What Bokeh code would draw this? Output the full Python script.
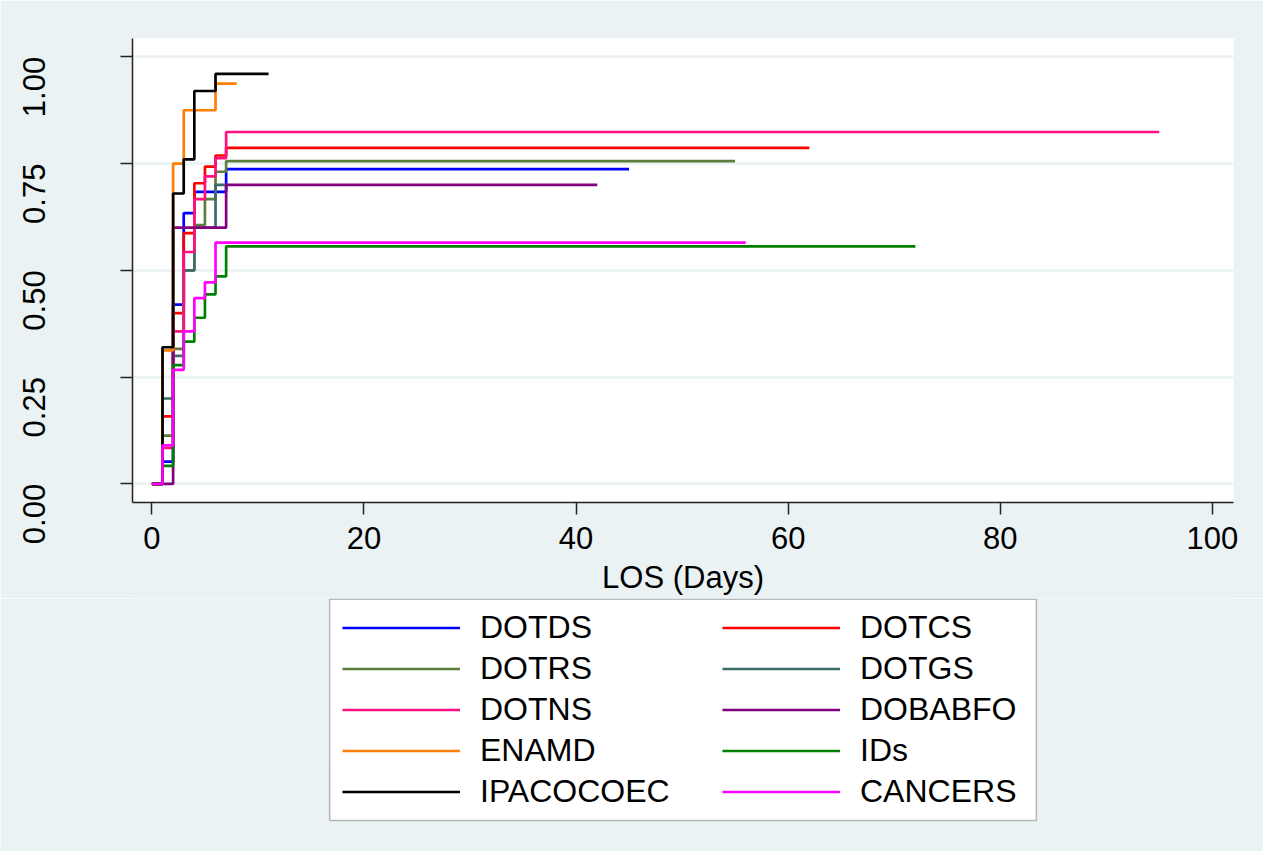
import math
from bokeh.plotting import figure
from bokeh.layouts import column
from bokeh.models import Legend, LegendItem, FixedTicker, PrintfTickFormatter, Range1d, BoxAnnotation
from bokeh.embed import file_html
from bokeh.resources import INLINE

# ---- data ----
names = ["DOTDS", "DOTCS", "DOTRS", "DOTGS", "DOTNS",
         "DOBABFO", "ENAMD", "IDs", "IPACOCOEC", "CANCERS"]

days_7 = [0, 1, 2, 3, 4, 5, 6, 7]
days_6 = [0, 1, 2, 3, 4, 5, 6]

dotds = [0, 0.052, 0.42, 0.634, 0.684, 0.684, 0.684, 0.737]
dotcs = [0, 0.158, 0.40, 0.587, 0.704, 0.743, 0.769, 0.787]
dotrs = [0, 0.113, 0.316, 0.50, 0.606, 0.667, 0.731, 0.756]
dotgs = [0, 0.20, 0.30, 0.50, 0.60, 0.60, 0.70, 0.70]
dotns = [0, 0.084, 0.357, 0.543, 0.667, 0.72, 0.763, 0.824]
dobabfo = [0, 0, 0.60, 0.60, 0.60, 0.60, 0.60, 0.70]
enamd = [0, 0.3125, 0.75, 0.875, 0.875, 0.875, 0.9375]
ids = [0, 0.042, 0.278, 0.333, 0.389, 0.444, 0.486, 0.556]
ipacocoec = [0, 0.32, 0.68, 0.76, 0.92, 0.92, 0.96]
cancers = [0, 0.09, 0.267, 0.357, 0.435, 0.472, 0.565]

last_day = [45, 62, 55, 7, 95, 42, 8, 72, 11, 56]

series_days = [days_7, days_7, days_7, days_7, days_7, days_7, days_6, days_7, days_6, days_6]
series_vals = [dotds, dotcs, dotrs, dotgs, dotns, dobabfo, enamd, ids, ipacocoec, cancers]

colors = ["#0000FF", "#FF0000", "#5B7F3A", "#3B6E6A", "#FF1080",
          "#800080", "#FF8000", "#008000", "#000000", "#FF00FF"]

y_ticks = [0, 0.25, 0.5, 0.75, 1.0]
x_ticks = [0, 20, 40, 60, 80, 100]

BG = "#EAF2F3"
FONT = "Liberation Sans"
W = 1263
H_TOP = 598
H_LEG = 253
LW = 2.7

p = figure(width=W, height=H_TOP, output_backend="svg", toolbar_location=None,
           x_range=Range1d(-1.83, 102.0), y_range=Range1d(-0.0436, 1.043),
           min_border_left=132, min_border_top=38, min_border_right=30,
           min_border_bottom=96)
p.border_fill_color = BG
p.background_fill_color = "white"
p.outline_line_color = None

renderers = []
for d, v, end, c in zip(series_days, series_vals, last_day, colors):
    xs = list(d) + [end]
    ys = list(v) + [v[-1]]
    r = p.step(xs, ys, mode="after", line_color=c, line_width=LW)
    renderers.append(r)

# axes
p.xaxis.ticker = FixedTicker(ticks=x_ticks)
p.yaxis.ticker = FixedTicker(ticks=y_ticks)
p.yaxis.formatter = PrintfTickFormatter(format="%.2f")
for ax in (p.xaxis, p.yaxis):
    ax.axis_line_color = "#222222"
    ax.axis_line_width = 1.5
    ax.major_tick_line_color = "#222222"
    ax.major_tick_line_width = 1.5
    ax.major_tick_in = 0
    ax.major_tick_out = 12
    ax.minor_tick_line_color = None
    ax.major_label_text_font = FONT
    ax.major_label_text_font_size = "31px"
    ax.major_label_text_color = "black"
p.yaxis.major_label_orientation = math.pi / 2
p.yaxis.major_label_standoff = 86
p.xaxis.major_label_standoff = 12
p.xaxis.axis_label = "LOS (Days)"
p.xaxis.axis_label_text_font = FONT
p.xaxis.axis_label_text_font_size = "31px"
p.xaxis.axis_label_text_font_style = "normal"
p.xaxis.axis_label_text_color = "black"
p.xaxis.axis_label_standoff = 8

p.xgrid.grid_line_color = None
p.ygrid.grid_line_color = BG
p.ygrid.grid_line_width = 2.5

# ---- legend strip below the plot (its frame is aligned with the plot frame) ----
q = figure(width=W, height=H_LEG, output_backend="svg", toolbar_location=None,
           x_range=Range1d(133, 1233), y_range=Range1d(0, H_LEG),
           min_border=0, x_axis_type=None, y_axis_type=None)
q.border_fill_color = BG
q.background_fill_color = BG
q.outline_line_color = None
q.xgrid.grid_line_color = None
q.ygrid.grid_line_color = None

q.add_layout(BoxAnnotation(left=330, right=1036, top=H_LEG - 0.75, bottom=H_LEG - 222,
                           fill_color="white", fill_alpha=1.0,
                           line_color="#222222", line_width=1.5, level="underlay"))

# off-screen stand-in lines that carry the legend glyph styles
leg_renderers = [q.line([140, 150], [-50, -50], line_color=c, line_width=LW) for c in colors]

legend_kw = dict(label_text_font=FONT, label_text_font_size="32px",
                 label_text_color="black",
                 glyph_width=118, glyph_height=37, label_height=37,
                 label_standoff=20, spacing=4, padding=12, margin=0,
                 border_line_color=None, background_fill_alpha=0.0)
left_items = [LegendItem(label=names[i], renderers=[leg_renderers[i]]) for i in (0, 2, 4, 6, 8)]
right_items = [LegendItem(label=names[i], renderers=[leg_renderers[i]]) for i in (1, 3, 5, 7, 9)]
q.add_layout(Legend(items=left_items, location=(210, 41), **legend_kw))
q.add_layout(Legend(items=right_items, location=(590, 41), **legend_kw))

layout = column(p, q, spacing=0)
open("out.html", "w").write(file_html(layout, INLINE))
